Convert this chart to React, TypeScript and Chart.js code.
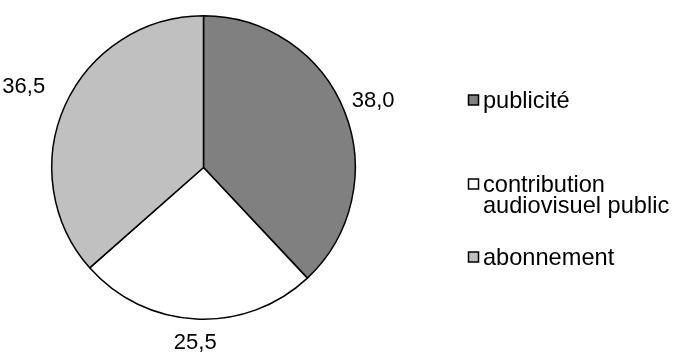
import React, { useEffect, useRef } from "react";
import { Chart, registerables } from "chart.js";

Chart.register(...registerables);

const categories: string[][] = [["publicité"], ["contribution", "audiovisuel public"], ["abonnement"]];
const values: number[] = [38.0, 25.5, 36.5];
const colors: string[] = ["#808080", "#FFFFFF", "#C0C0C0"];
const valueLabels: string[] = ["38,0", "25,5", "36,5"];

const LABEL_FONT = '22px "Liberation Sans", Arial, sans-serif';
const LEGEND_FONT = '23.6px "Liberation Sans", Arial, sans-serif';
const LABEL_GAP = [9, 15, 26];

const labelsPlugin = {
  id: "customLabels",
  afterDraw(chart: any) {
    const ctx = chart.ctx as CanvasRenderingContext2D;
    const meta = chart.getDatasetMeta(0);
    ctx.save();
    ctx.font = LABEL_FONT;
    ctx.fillStyle = "#000";
    ctx.textAlign = "center";
    ctx.textBaseline = "middle";
    meta.data.forEach((arc: any, i: number) => {
      const p = arc.getProps(["x", "y", "startAngle", "endAngle", "outerRadius"], true);
      const mid = (p.startAngle + p.endAngle) / 2;
      const cx = Math.cos(mid);
      const cy = Math.sin(mid);
      const hw = ctx.measureText(valueLabels[i]).width / 2;
      const hh = 8;
      const boxR = Math.min(
        Math.abs(cx) > 1e-6 ? hw / Math.abs(cx) : Infinity,
        Math.abs(cy) > 1e-6 ? hh / Math.abs(cy) : Infinity
      );
      const d = p.outerRadius + LABEL_GAP[i] + boxR;
      ctx.fillText(valueLabels[i], p.x + cx * d, p.y + cy * d + 1);
    });
    // legend
    ctx.font = LEGEND_FONT;
    const legendX = 468;
    const rowY = [100, 184, 257];
    const lineH = 21;
    categories.forEach((lines, i) => {
      const y = rowY[i];
      ctx.fillStyle = colors[i];
      ctx.fillRect(legendX + 0.5, y - 5, 10, 10);
      ctx.strokeStyle = "#000";
      ctx.lineWidth = 1.5;
      ctx.strokeRect(legendX + 0.5, y - 5, 10, 10);
      ctx.fillStyle = "#000";
      ctx.textAlign = "left";
      lines.forEach((t, j) => ctx.fillText(t, legendX + 15, y + j * lineH + 1));
    });
    ctx.restore();
  },
};

export default function App() {
  const ref = useRef<HTMLCanvasElement>(null);
  useEffect(() => {
    document.body.style.margin = "0";
    const chart = new Chart(ref.current!, {
      type: "pie",
      data: {
        labels: categories.map((c) => c.join(" ")),
        datasets: [
          {
            data: values,
            backgroundColor: colors,
            borderColor: "#000",
            borderWidth: 1.5,
          },
        ],
      },
      options: {
        responsive: false,
        animation: false,
        layout: { padding: { left: 51, right: 319, top: 15, bottom: 32 } },
        plugins: { legend: { display: false }, tooltip: { enabled: false } },
      },
      plugins: [labelsPlugin],
    });
    return () => chart.destroy();
  }, []);
  return (
    <div style={{ width: 675, height: 352, background: "#fff" }}>
      <canvas ref={ref} width={675} height={352} />
    </div>
  );
}
